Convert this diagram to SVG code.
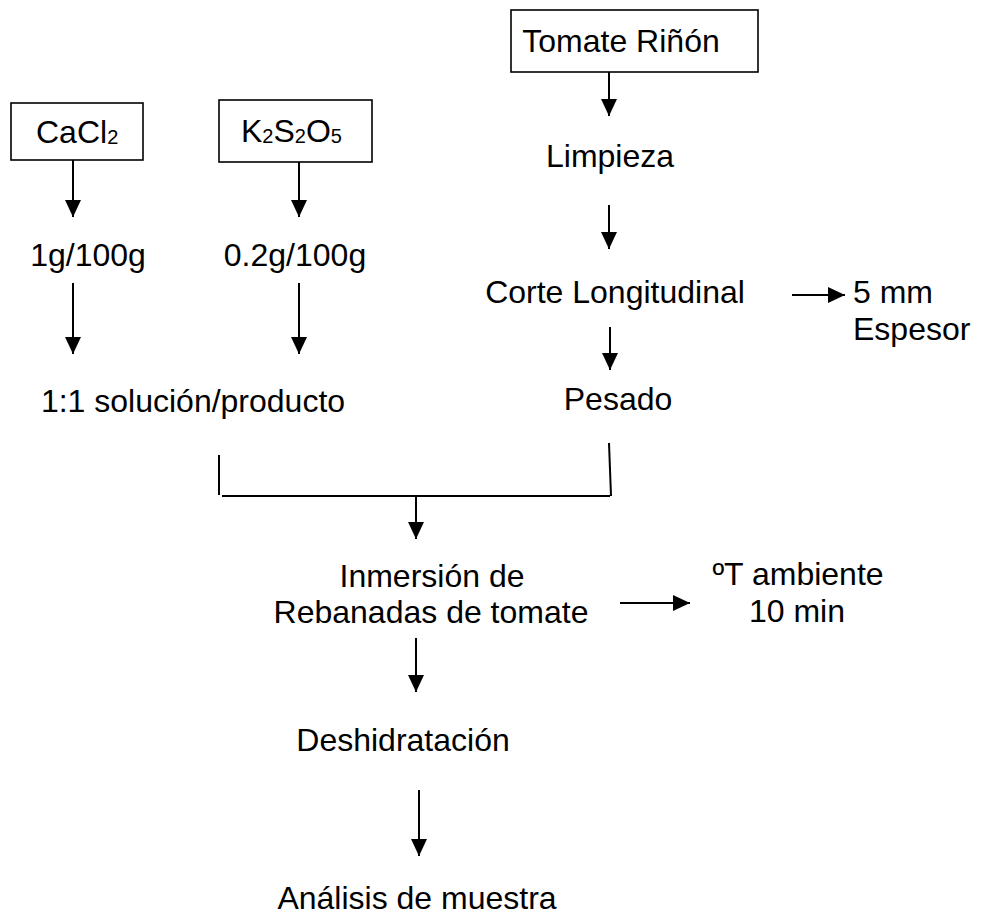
<svg xmlns="http://www.w3.org/2000/svg" width="987" height="915" viewBox="0 0 987 915">
<style>
text{font-family:"Liberation Sans",Arial,sans-serif;font-size:32px;fill:#000}
.c{text-anchor:middle}
.sub{font-size:20px}
.box{fill:#fff;stroke:#000;stroke-width:1.6}
.ln{stroke:#000;stroke-width:2;fill:none}
</style>
<defs>
<marker id="ah" markerUnits="userSpaceOnUse" markerWidth="18" markerHeight="16" refX="17" refY="8" orient="auto">
<path d="M0,0 L17,8 L0,16 Z" fill="#000"/>
</marker>
</defs>
<rect width="987" height="915" fill="#fff"/>
<g id="connectors">
<line class="ln" x1="609" y1="72" x2="609" y2="116" marker-end="url(#ah)"/>
<line class="ln" x1="609" y1="205" x2="609" y2="249" marker-end="url(#ah)"/>
<line class="ln" x1="610" y1="327" x2="610" y2="370" marker-end="url(#ah)"/>
<line class="ln" x1="792" y1="295" x2="845" y2="295" marker-end="url(#ah)"/>
<line class="ln" x1="73" y1="160" x2="73" y2="217" marker-end="url(#ah)"/>
<line class="ln" x1="73" y1="283" x2="73" y2="354" marker-end="url(#ah)"/>
<line class="ln" x1="299" y1="162" x2="299" y2="217" marker-end="url(#ah)"/>
<line class="ln" x1="299" y1="283" x2="299" y2="354" marker-end="url(#ah)"/>
<line class="ln" x1="219" y1="455" x2="219" y2="495"/>
<line class="ln" x1="222" y1="496" x2="610" y2="496"/>
<line class="ln" x1="609" y1="443" x2="611" y2="496"/>
<line class="ln" x1="416" y1="496" x2="416" y2="539" marker-end="url(#ah)"/>
<line class="ln" x1="620" y1="603" x2="690" y2="603" marker-end="url(#ah)"/>
<line class="ln" x1="416" y1="638" x2="416" y2="692" marker-end="url(#ah)"/>
<line class="ln" x1="419" y1="790" x2="419" y2="856" marker-end="url(#ah)"/>
</g>
<g id="tomate"><rect class="box" x="511" y="10" width="247" height="62"/><text class="c" x="621" y="52">Tomate Riñón</text></g>
<g id="cacl2"><rect class="box" x="11" y="103" width="132" height="57"/><text x="36" y="143">CaCl<tspan class="sub" dy="1">2</tspan></text></g>
<g id="k2s2o5"><rect class="box" x="219" y="100" width="153" height="62"/><text x="241" y="142">K<tspan class="sub" dy="1">2</tspan><tspan dy="-1">S</tspan><tspan class="sub" dy="1">2</tspan><tspan dy="-1">O</tspan><tspan class="sub" dy="1">5</tspan></text></g>
<g id="limpieza"><text class="c" x="610" y="167">Limpieza</text></g>
<g id="conc1"><text class="c" x="88" y="266">1g/100g</text></g>
<g id="conc2"><text class="c" x="295" y="266">0.2g/100g</text></g>
<g id="corte"><text class="c" x="615" y="303">Corte Longitudinal</text></g>
<g id="espesor"><text x="853" y="303">5 mm</text><text x="853" y="340">Espesor</text></g>
<g id="pesado"><text class="c" x="618" y="410">Pesado</text></g>
<g id="solucion"><text class="c" x="193" y="412">1:1 solución/producto</text></g>
<g id="inmersion"><text class="c" x="432" y="587">Inmersión de</text><text class="c" x="431" y="623">Rebanadas de tomate</text></g>
<g id="temp"><text class="c" x="798" y="585">ºT ambiente</text><text class="c" x="797" y="622">10 min</text></g>
<g id="deshidratacion"><text class="c" x="403" y="751">Deshidratación</text></g>
<g id="analisis"><text class="c" x="417" y="909">Análisis de muestra</text></g>
</svg>
